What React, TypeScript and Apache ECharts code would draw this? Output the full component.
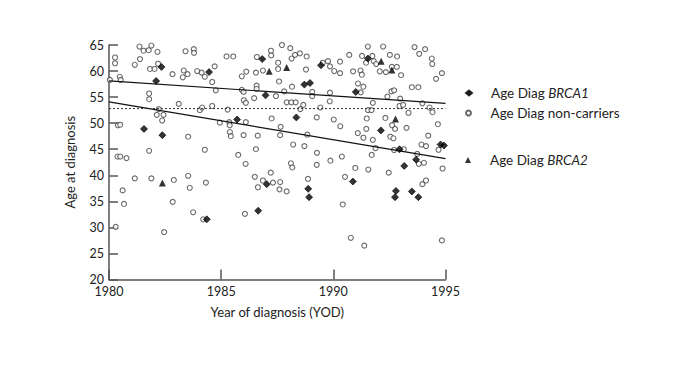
import React, { useEffect, useRef } from "react";
import * as echarts from "echarts";

// [year of diagnosis, age at diagnosis]
const nonCarriers: number[][] = [
  [1981.36, 64.7], [1981.54, 63.9], [1981.77, 64.0], [1981.89, 64.9], [1982.16, 63.7],
  [1980.27, 62.6], [1980.27, 61.5], [1981.38, 62.3], [1981.15, 61.2], [1982.19, 61.4],
  [1981.83, 60.4], [1982.03, 60.4], [1983.41, 63.8], [1983.78, 64.2], [1983.79, 63.5],
  [1982.83, 59.4], [1983.33, 60.1], [1983.5, 59.4], [1983.29, 58.8], [1983.93, 60.0],
  [1984.13, 59.7], [1984.27, 58.9], [1984.71, 60.9], [1984.6, 57.9], [1984.76, 56.3],
  [1980.48, 58.9], [1980.52, 58.3], [1980.04, 58.3], [1981.79, 55.7], [1981.79, 54.6],
  [1983.11, 53.7], [1982.22, 52.7], [1982.13, 51.6], [1982.43, 51.6], [1982.37, 50.5],
  [1984.05, 52.5], [1984.15, 53.0], [1984.6, 53.3], [1984.94, 50.1], [1980.4, 49.6],
  [1980.5, 49.7], [1983.53, 47.4], [1984.27, 44.9], [1981.79, 44.7], [1980.38, 43.6],
  [1980.5, 43.6], [1980.78, 43.3],
  [1985.52, 65.3], [1985.24, 62.8], [1985.54, 62.8], [1987.71, 65.0], [1988.08, 64.4],
  [1987.22, 63.9], [1987.23, 63.0], [1986.59, 62.7], [1988.29, 63.1], [1988.51, 63.4],
  [1988.81, 62.8], [1988.14, 62.4], [1987.54, 61.6], [1987.54, 60.4], [1986.86, 60.1],
  [1986.55, 59.7], [1986.12, 59.9], [1985.92, 59.0], [1988.78, 60.3], [1989.53, 61.6],
  [1989.76, 61.9], [1989.85, 60.9], [1990.3, 61.8], [1990.04, 60.0], [1990.3, 59.6],
  [1987.58, 58.0], [1986.58, 57.2], [1986.58, 56.6], [1985.92, 56.4], [1986.0, 56.0],
  [1987.81, 56.1], [1988.16, 57.0], [1989.06, 56.0], [1989.06, 55.2], [1989.85, 55.85],
  [1986.47, 54.8], [1987.44, 55.2], [1986.01, 54.4], [1986.1, 53.9], [1987.92, 54.0],
  [1988.13, 54.0], [1988.32, 54.0], [1988.66, 53.5], [1989.84, 54.2], [1985.29, 52.6],
  [1988.53, 52.7], [1989.42, 53.0], [1987.25, 50.9], [1989.26, 51.1], [1990.02, 50.7],
  [1985.36, 50.2], [1985.38, 49.6], [1986.1, 50.2], [1987.65, 49.3], [1990.31, 49.4],
  [1985.39, 48.3], [1985.43, 47.5], [1986.0, 47.7], [1986.63, 47.6], [1987.63, 47.7],
  [1988.84, 47.8], [1986.55, 45.0], [1988.21, 45.9], [1988.71, 45.6], [1989.27, 44.3],
  [1985.76, 43.9], [1990.38, 43.6], [1989.87, 42.8],
  [1991.54, 64.7], [1992.22, 64.7], [1993.13, 65.25], [1993.62, 64.6], [1994.09, 64.2],
  [1995.03, 64.0], [1990.71, 63.1], [1991.28, 62.9], [1991.74, 62.9], [1992.52, 63.1],
  [1992.84, 62.8], [1993.83, 63.3], [1994.39, 62.4], [1994.41, 61.35], [1991.46, 61.6],
  [1991.8, 61.9], [1991.91, 61.35], [1992.61, 60.8], [1992.83, 60.8], [1991.21, 60.1],
  [1991.27, 59.3], [1990.88, 59.95], [1992.07, 59.95], [1992.34, 59.8], [1993.02, 59.2],
  [1994.84, 59.6], [1994.58, 58.5], [1991.1, 57.6], [1991.34, 57.0], [1993.5, 56.9],
  [1993.79, 56.9], [1992.59, 56.1], [1992.71, 56.3], [1991.22, 55.9], [1992.41, 55.1],
  [1992.98, 54.7], [1991.76, 53.9], [1993.97, 53.8], [1992.95, 53.3], [1993.11, 53.5],
  [1991.55, 52.5], [1991.7, 52.5], [1994.29, 53.0], [1994.42, 52.1], [1993.35, 52.0],
  [1991.49, 50.9], [1992.32, 51.0], [1992.62, 49.6], [1992.75, 48.9], [1994.66, 49.8],
  [1991.47, 48.9], [1993.26, 49.1], [1991.09, 48.1], [1992.54, 47.4], [1992.68, 47.1],
  [1994.23, 47.6], [1991.34, 47.2], [1991.76, 46.8], [1993.93, 45.9], [1994.13, 45.6],
  [1991.88, 45.2], [1992.71, 44.85], [1993.14, 45.0], [1993.74, 44.1], [1991.71, 43.9],
  [1994.69, 44.9],
  [1981.15, 39.4], [1981.89, 39.4], [1982.89, 39.1], [1983.53, 39.9], [1983.6, 37.6],
  [1984.32, 38.6], [1980.61, 37.1], [1980.67, 34.5], [1982.84, 34.9], [1983.75, 32.9],
  [1984.2, 31.55], [1980.3, 30.1], [1982.46, 29.1],
  [1986.09, 42.2], [1988.11, 42.3], [1988.17, 41.5], [1989.26, 42.0], [1986.5, 39.7],
  [1987.21, 40.5], [1986.86, 39.0], [1987.31, 38.6], [1987.63, 38.7], [1986.64, 37.7],
  [1987.6, 37.3], [1987.92, 36.9], [1988.87, 39.3], [1986.06, 32.6], [1990.42, 34.4],
  [1990.52, 39.7],
  [1990.98, 41.4], [1991.56, 41.1], [1992.47, 40.5], [1993.81, 42.2], [1994.04, 42.4],
  [1994.87, 41.3], [1993.97, 38.3], [1994.13, 39.0], [1990.78, 28.0], [1991.38, 26.5],
  [1994.84, 27.5],
];

const brca1: number[][] = [
  [1982.34, 60.8], [1984.46, 59.8], [1982.1, 58.1], [1981.56, 48.9], [1982.38, 47.7],
  [1986.83, 62.3], [1989.45, 61.1], [1988.71, 57.4], [1988.96, 57.7], [1986.98, 55.35],
  [1985.71, 50.7], [1988.35, 51.1], [1991.54, 62.4], [1991.0, 56.0], [1992.12, 48.6],
  [1992.95, 45.0], [1994.78, 45.9], [1994.93, 45.7], [1984.36, 31.55], [1987.03, 38.3],
  [1988.88, 37.4], [1988.92, 35.8], [1986.65, 33.2], [1990.87, 38.8], [1993.16, 41.8],
  [1993.69, 43.0], [1992.79, 37.0], [1992.75, 35.8], [1993.5, 36.9], [1993.79, 35.8],
];

const brca2: number[][] = [
  [1987.14, 59.95], [1987.92, 60.7], [1992.13, 61.9], [1992.61, 60.2], [1992.77, 50.8],
  [1982.38, 38.5],
];

const trendNonCarriers: number[][] = [[1980, 58.1], [1995, 53.8]];
const trendCarriers: number[][] = [[1980, 54.1], [1995, 43.2]];
const meanAge: number[][] = [[1980, 52.8], [1995, 52.8]];

const legendLabels: Record<string, string> = {
  BRCA1: "{s|}{n|Age Diag }{i|BRCA1}",
  "non-carriers": "{s|}{n|Age Diag non-carriers}",
  BRCA2: "{s|}{n|Age Diag }{i|BRCA2}",
};

const FONT = "Lato, 'DejaVu Sans', sans-serif";
const AXIS_COLOR = "#555";

export default function App() {
  const ref = useRef<HTMLDivElement>(null);
  useEffect(() => {
    if (!ref.current) return;
    const chart = echarts.init(ref.current, undefined, { renderer: "svg" });
    const rich = {
      s: { width: 14 },
      n: { fontFamily: FONT, fontSize: 13.5, color: "#222" },
      i: { fontFamily: FONT, fontSize: 13.5, color: "#222", fontStyle: "italic" },
    };
    const legendBase = {
      orient: "vertical",
      left: 460,
      itemWidth: 6,
      itemGap: 0,
      selectedMode: false,
      formatter: (name: string) => legendLabels[name] || name,
      textStyle: { rich },
    };
    chart.setOption({
      animation: false,
      backgroundColor: "#fff",
      textStyle: { fontFamily: FONT },
      grid: { left: 109, right: 254.5, top: 45, bottom: 89.5, containLabel: false },
      legend: [
        { ...legendBase, data: ["BRCA1"], top: 81, itemHeight: 5 },
        { ...legendBase, data: ["non-carriers"], top: 101, itemHeight: 5 },
        { ...legendBase, data: ["BRCA2"], top: 148, itemHeight: 6 },
      ],
      xAxis: {
        type: "value",
        min: 1980,
        max: 1995,
        interval: 5,
        name: "Year of diagnosis (YOD)",
        nameLocation: "middle",
        nameGap: 26,
        nameTextStyle: { fontFamily: FONT, fontSize: 13, color: "#222" },
        axisLine: { show: true, lineStyle: { color: AXIS_COLOR, width: 1.5 } },
        axisTick: { show: true, inside: true, length: 10, lineStyle: { color: AXIS_COLOR, width: 1.5 } },
        axisLabel: {
          fontFamily: FONT,
          fontSize: 12.5,
          color: "#222",
          margin: 6,
          lineHeight: 11,
          formatter: (v: number) => String(v),
        },
        splitLine: { show: false },
      },
      yAxis: {
        type: "value",
        min: 20,
        max: 65,
        interval: 5,
        name: "Age at diagnosis",
        nameLocation: "middle",
        nameGap: 33,
        nameTextStyle: { fontFamily: FONT, fontSize: 13, color: "#222" },
        axisLine: { show: true, lineStyle: { color: AXIS_COLOR, width: 1.5 } },
        axisTick: { show: true, inside: true, length: 9, lineStyle: { color: AXIS_COLOR, width: 1.5 } },
        axisLabel: { fontFamily: FONT, fontSize: 12.5, color: "#222", margin: 5, lineHeight: 9 },
        splitLine: { show: false },
      },
      series: [
        {
          name: "non-carriers",
          type: "scatter",
          data: nonCarriers,
          symbol: "circle",
          symbolSize: 5,
          itemStyle: { color: "#fff", borderColor: "#444", borderWidth: 1.1 },
          z: 2,
        },
        {
          name: "BRCA1",
          type: "scatter",
          data: brca1,
          symbol: "diamond",
          symbolSize: 7,
          itemStyle: { color: "#000", borderColor: "#000", borderWidth: 0.8 },
          z: 4,
        },
        {
          name: "BRCA2",
          type: "scatter",
          data: brca2,
          symbol: "triangle",
          symbolSize: 7,
          itemStyle: { color: "#000" },
          z: 4,
        },
        {
          name: "trendNonCarriers",
          type: "line",
          data: trendNonCarriers,
          symbol: "none",
          lineStyle: { color: "#111", width: 1.2 },
          z: 3,
          silent: true,
        },
        {
          name: "trendCarriers",
          type: "line",
          data: trendCarriers,
          symbol: "none",
          lineStyle: { color: "#111", width: 1.2 },
          z: 3,
          silent: true,
        },
        {
          name: "meanAge",
          type: "line",
          data: meanAge,
          symbol: "none",
          lineStyle: { color: "#333", width: 1, type: [2, 2] },
          z: 3,
          silent: true,
        },
      ],
    });
    return () => chart.dispose();
  }, []);
  return (
    <div
      ref={ref}
      style={{ position: "fixed", left: 0, top: 0, width: 700, height: 369, background: "#fff" }}
    />
  );
}
